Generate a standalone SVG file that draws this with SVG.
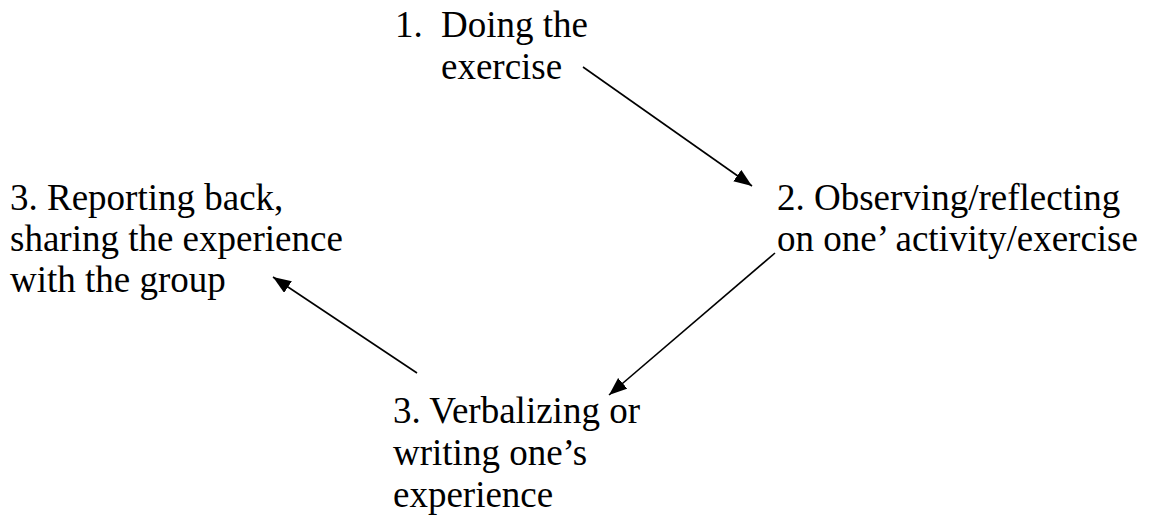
<svg xmlns="http://www.w3.org/2000/svg" width="1151" height="516" viewBox="0 0 1151 516">
  <style>
    .lbl { font-family: "Liberation Serif", "Times New Roman", serif; font-size: 37px; fill: #000; }
    .conn { stroke: #000; stroke-width: 1.6; fill: none; marker-end: url(#head); }
  </style>
  <defs>
    <marker id="head" markerUnits="userSpaceOnUse" markerWidth="20" markerHeight="16" refX="18" refY="7" orient="auto">
      <path d="M0,0 L18,7 L0,14 Z" fill="#000"/>
    </marker>
  </defs>
  <rect width="1151" height="516" fill="#fff"/>

  <g id="connectors">
    <line class="conn" x1="583" y1="67" x2="752" y2="186"/>
    <line class="conn" x1="775" y1="253" x2="609" y2="395"/>
    <line class="conn" x1="417" y1="373" x2="273" y2="277"/>
  </g>

  <g id="node-doing">
    <text class="lbl" x="395" y="37">1.</text>
    <text class="lbl" x="441" y="37">Doing the</text>
    <text class="lbl" x="441" y="79">exercise</text>
  </g>

  <g id="node-observing">
    <text class="lbl" x="777" y="210">2. Observing/reflecting</text>
    <text class="lbl" x="777" y="251">on one’ activity/exercise</text>
  </g>

  <g id="node-verbalizing">
    <text class="lbl" x="393" y="423">3. Verbalizing or</text>
    <text class="lbl" x="393" y="465">writing one’s</text>
    <text class="lbl" x="393" y="507">experience</text>
  </g>

  <g id="node-reporting">
    <text class="lbl" x="10" y="210">3. Reporting back,</text>
    <text class="lbl" x="10" y="251">sharing the experience</text>
    <text class="lbl" x="10" y="292">with the group</text>
  </g>
</svg>
